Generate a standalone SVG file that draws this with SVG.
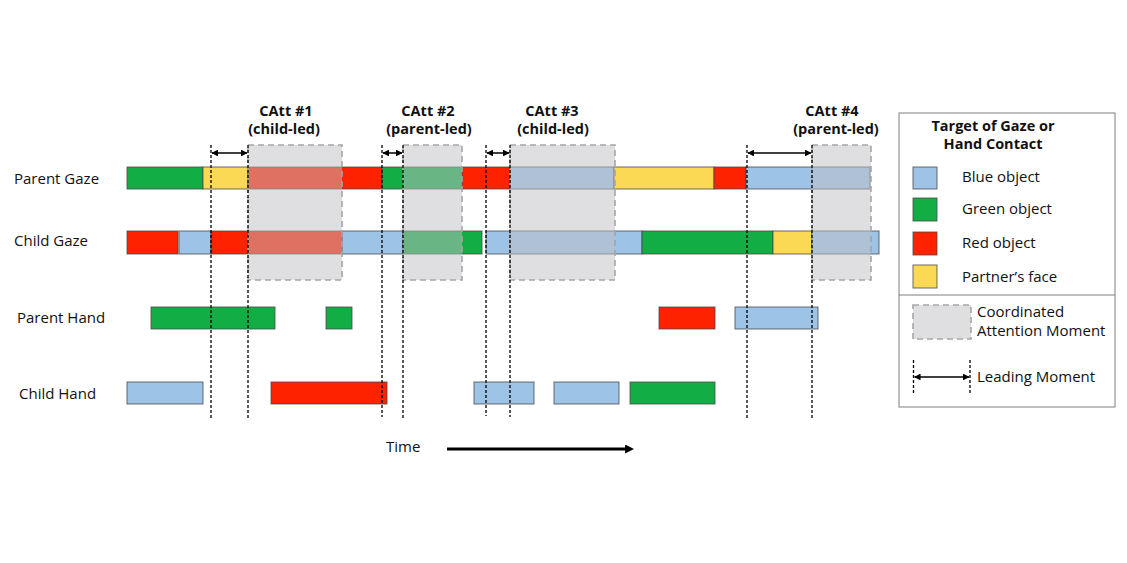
<svg xmlns="http://www.w3.org/2000/svg" width="1127" height="563" viewBox="0 0 1127 563">
<defs>
<style>
.t{font-family:"Open Sans","Liberation Sans",sans-serif;font-size:15px;fill:#111}
.b{font-family:"Open Sans","Liberation Sans",sans-serif;font-size:14.5px;font-weight:bold;fill:#111}
.seg{stroke:#4a4a4a;stroke-opacity:0.8;stroke-width:1}
.bl{fill:#9DC3E6}.gr{fill:#12AD45}.rd{fill:#FF2200}.ye{fill:#FCD955}
.catt{fill:#C0C0C4;fill-opacity:0.5;stroke:#A6A6A6;stroke-width:1.6;stroke-dasharray:6,4}
.dl{stroke:#000;stroke-width:1.3;stroke-dasharray:3,2;fill:none}
.arr{stroke:#000;stroke-width:1.5;fill:none;marker-start:url(#ah);marker-end:url(#ah)}
</style>
<marker id="ah" viewBox="0 0 10 10" refX="9" refY="5" markerWidth="4.5" markerHeight="4.5" orient="auto-start-reverse"><path d="M0,0L10,5L0,10z" fill="#000"/></marker>
<marker id="th" viewBox="0 0 10 10" refX="1" refY="5" markerWidth="3" markerHeight="3" orient="auto"><path d="M0,0L10,5L0,10z" fill="#000"/></marker>
</defs>
<rect width="1127" height="563" fill="#fff"/>

<g id="labels">
<text class="t" x="14" y="184">Parent Gaze</text>
<text class="t" x="14" y="246">Child Gaze</text>
<text class="t" x="17" y="323">Parent Hand</text>
<text class="t" x="19" y="399">Child Hand</text>
</g>

<g id="parent-gaze">
<rect class="seg gr" x="127" y="167" width="76" height="22"/>
<rect class="seg ye" x="203" y="167" width="45" height="22"/>
<rect class="seg rd" x="248" y="167" width="134" height="22"/>
<rect class="seg gr" x="382" y="167" width="80" height="22"/>
<rect class="seg rd" x="462" y="167" width="48" height="22"/>
<rect class="seg bl" x="510" y="167" width="104" height="22"/>
<rect class="seg ye" x="614" y="167" width="100" height="22"/>
<rect class="seg rd" x="714" y="167" width="32" height="22"/>
<rect class="seg bl" x="746" y="167" width="124" height="22"/>
</g>

<g id="child-gaze">
<rect class="seg rd" x="127" y="231" width="51" height="23"/>
<rect class="seg bl" x="179" y="231" width="32" height="23"/>
<rect class="seg rd" x="211" y="231" width="131" height="23"/>
<rect class="seg bl" x="342" y="231" width="61" height="23"/>
<rect class="seg gr" x="403" y="231" width="79" height="23"/>
<rect class="seg bl" x="486" y="231" width="156" height="23"/>
<rect class="seg gr" x="642" y="231" width="131" height="23"/>
<rect class="seg ye" x="773" y="231" width="39" height="23"/>
<rect class="seg bl" x="812" y="231" width="67" height="23"/>
</g>

<g id="parent-hand">
<rect class="seg gr" x="151" y="307" width="124" height="22"/>
<rect class="seg gr" x="326" y="307" width="26" height="22"/>
<rect class="seg rd" x="659" y="307" width="56" height="22"/>
<rect class="seg bl" x="735" y="307" width="83" height="22"/>
</g>

<g id="child-hand">
<rect class="seg bl" x="127" y="382" width="76" height="22"/>
<rect class="seg rd" x="271" y="382" width="116" height="22"/>
<rect class="seg bl" x="474" y="382" width="60" height="22"/>
<rect class="seg bl" x="554" y="382" width="65" height="22"/>
<rect class="seg gr" x="630" y="382" width="85" height="22"/>
</g>

<g id="catt1">
<rect class="catt" x="248" y="145" width="94" height="135"/>
<text class="b" x="286" y="116" text-anchor="middle">CAtt #1</text>
<text class="b" x="284" y="134" text-anchor="middle">(child-led)</text>
</g>
<g id="catt2">
<rect class="catt" x="403" y="145" width="59" height="135"/>
<text class="b" x="428" y="116" text-anchor="middle">CAtt #2</text>
<text class="b" x="429" y="134" text-anchor="middle">(parent-led)</text>
</g>
<g id="catt3">
<rect class="catt" x="510" y="145" width="105" height="135"/>
<text class="b" x="552" y="116" text-anchor="middle">CAtt #3</text>
<text class="b" x="553" y="134" text-anchor="middle">(child-led)</text>
</g>
<g id="catt4">
<rect class="catt" x="812" y="145" width="59" height="135"/>
<text class="b" x="832" y="116" text-anchor="middle">CAtt #4</text>
<text class="b" x="836" y="134" text-anchor="middle">(parent-led)</text>
</g>

<g id="connectors">
<line class="dl" x1="211" y1="145" x2="211" y2="418"/>
<line class="dl" x1="248" y1="145" x2="248" y2="418"/>
<line class="dl" x1="382" y1="145" x2="382" y2="417"/>
<line class="dl" x1="403" y1="145" x2="403" y2="418"/>
<line class="dl" x1="486" y1="145" x2="486" y2="416"/>
<line class="dl" x1="510" y1="145" x2="510" y2="417"/>
<line class="dl" x1="747" y1="145" x2="747" y2="418"/>
<line class="dl" x1="812" y1="145" x2="812" y2="418"/>
<line class="arr" x1="212" y1="153" x2="247" y2="153"/>
<line class="arr" x1="383" y1="153" x2="402" y2="153"/>
<line class="arr" x1="487" y1="153" x2="509" y2="153"/>
<line class="arr" x1="748" y1="153" x2="811" y2="153"/>
</g>

<g id="time">
<text class="t" x="386" y="452">Time</text>
<line x1="447" y1="449" x2="626" y2="449" stroke="#000" stroke-width="3" marker-end="url(#th)"/>
</g>

<g id="legend">
<rect x="899" y="113" width="216" height="294" fill="#fff" stroke="#7F7F7F" stroke-width="1"/>
<line x1="899" y1="295" x2="1115" y2="295" stroke="#7F7F7F" stroke-width="1"/>
<text class="b" x="993" y="131" text-anchor="middle">Target of Gaze or</text>
<text class="b" x="993" y="149" text-anchor="middle">Hand Contact</text>
<rect class="seg bl" x="913" y="167" width="24" height="22"/>
<text class="t" x="962" y="182">Blue object</text>
<rect class="seg gr" x="913" y="198" width="24" height="23"/>
<text class="t" x="962" y="214">Green object</text>
<rect class="seg rd" x="913" y="232" width="24" height="23"/>
<text class="t" x="962" y="248">Red object</text>
<rect class="seg ye" x="913" y="265" width="24" height="23"/>
<text class="t" x="962" y="282">Partner’s face</text>
<rect class="catt" x="913" y="305" width="58" height="34"/>
<text class="t" x="977" y="317">Coordinated</text>
<text class="t" x="977" y="336">Attention Moment</text>
<line class="dl" x1="913.5" y1="360" x2="913.5" y2="394"/>
<line class="dl" x1="970" y1="360" x2="970" y2="394"/>
<line class="arr" x1="914.5" y1="377" x2="969" y2="377"/>
<text class="t" x="977" y="382">Leading Moment</text>
</g>
</svg>
